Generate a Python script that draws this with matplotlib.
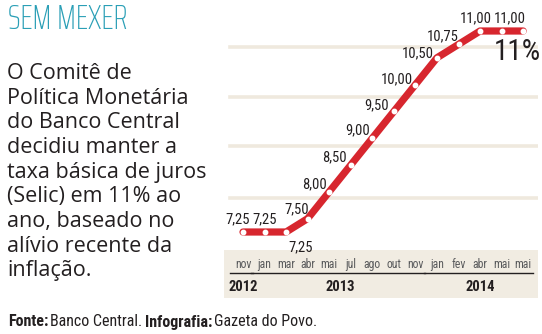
import numpy as np
import matplotlib
matplotlib.use('Agg')
import matplotlib.pyplot as plt
import matplotlib.transforms as mtransforms

# data
months = ['nov', 'jan', 'mar', 'abr', 'mai', 'jul', 'ago', 'out', 'nov',
          'jan', 'fev', 'abr', 'mai', 'mai']
years = ['2012', '2013', '2014']
year_groups = [(0, 0), (1, 8), (9, 13)]
selic = [7.25, 7.25, 7.25, 7.50, 8.00, 8.50, 9.00, 9.50, 10.00,
         10.50, 10.75, 11.00, 11.00, 11.00]
grid_levels = [7.88, 8.85, 9.77, 10.70]

# label offsets (px) from each point, None = no label
label_off = [(-5, 13), (0, 13), (15, -15), (-11, 9), (-15, 8), (-16, 8),
             (-15, 8), (-17, 6), (-19, 5), (-19, 5), (-16, 8), (-4, 13),
             (8, 13), None]

red = '#d7262e'
dark = '#231f20'
cond = ['Roboto Condensed', 'Fira Sans Condensed', 'Sofia Sans Condensed',
        'DejaVu Sans']
xcond = ['Saira ExtraCondensed', 'Roboto Condensed', 'DejaVu Sans']

W, H = 542, 334
fig = plt.figure(figsize=(W / 100, H / 100), dpi=100)
pt = 0.72  # px -> points

# left text
fig.text(8 / W, 1 - 3 / H, 'SEM MEXER', color='#2a9fb6', fontsize=25,
         family=xcond, weight='light', va='top', ha='left')
body = ('O Comitê de\nPolítica Monetária\ndo Banco Central\ndecidiu manter a\n'
        'taxa básica de juros\n(Selic) em 11% ao\nano, baseado no\n'
        'alívio recente da\ninflação.')
fig.text(7 / W, 1 - 63 / H, body, color=dark, fontsize=15.5,
         family='Open Sans', va='top', ha='left', linespacing=1.23)

# footer
fig.canvas.draw()
r = fig.canvas.get_renderer()
xpos = 8
for s, w in [('Fonte:', 'bold'), ('Banco Central.', 'normal'),
             ('Infografia:', 'bold'), ('Gazeta do Povo.', 'normal')]:
    t = fig.text(xpos / W, 1 - 322 / H, s, fontsize=11.5, family=cond,
                 weight=w, va='center', ha='left', color=dark)
    bb = t.get_window_extent(r)
    xpos = bb.x1 + 2

# chart axes: x 224..538 px, y 0..298 px
x0, x1, y0, y1 = 224, 538, 0, 298
ax = fig.add_axes([x0 / W, 1 - y1 / H, (x1 - x0) / W, (y1 - y0) / H])
ax.axis('off')
step = 21.55
ax.set_xlim((x0 - 243) / step, (x1 - 243) / step)
ppu = 53.6
ax.set_ylim(7.25 - (y1 - 232) / ppu, 7.25 + (232 - y0) / ppu)

trans = mtransforms.blended_transform_factory(ax.transData, ax.transAxes)
htrans = mtransforms.blended_transform_factory(ax.transAxes, ax.transData)
xs = np.arange(len(selic))

# background band
ax.add_patch(plt.Rectangle((0, 0), 1, 48 / 298, transform=ax.transAxes,
                           color='#f1ece2', lw=0, zorder=0))
for g in grid_levels:
    ax.plot([0.02, 1], [g, g], transform=htrans, color='#efe9de', lw=2.6,
            zorder=1)

ax.plot(xs, selic, color=red, lw=5.2, solid_capstyle='round',
        solid_joinstyle='round', zorder=3)
ax.plot(xs, selic, 'o', color='white', ms=3.2, mec='white', zorder=4)

# value labels
for i, v in enumerate(selic):
    if label_off[i] is None:
        continue
    s = ('%.2f' % v).replace('.', ',')
    dx, dy = label_off[i]
    ax.annotate(s, (i, v), xytext=(dx * pt, dy * pt), textcoords='offset points',
                ha='center', va='center', fontsize=10.5, family=cond,
                color=dark, zorder=5)

ax.annotate('%d%%' % selic[-1], (13, selic[-1]), xytext=(-6 * pt, -21 * pt),
            textcoords='offset points', ha='center', va='center', fontsize=21,
            family=cond, color=dark)

# month labels and year bars
for i, m in enumerate(months):
    ax.text(i, 0.111, m, transform=trans, ha='center', va='center',
            fontsize=8.5, family=cond, color='#58595b')
for (a, b), yl in zip(year_groups, years):
    ax.plot([a - 0.62, b + 0.45], [0.084, 0.084], transform=trans,
            color=dark, lw=1)
    ax.text((a + b) / 2, 0.036, yl, transform=trans, ha='center', va='center',
            fontsize=10.5, family=cond, weight='bold', color=dark)

fig.savefig('out.png', dpi=100)
